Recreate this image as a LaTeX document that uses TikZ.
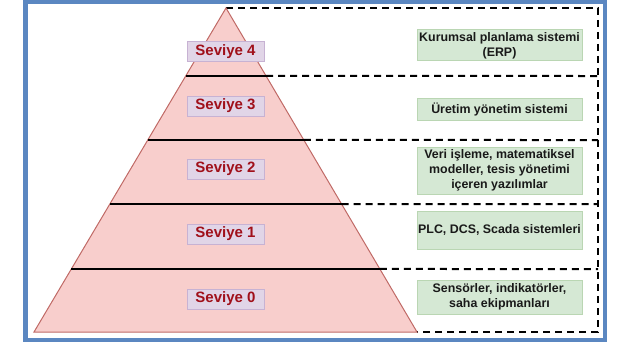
\documentclass[tikz,border=0pt]{standalone}
\usepackage{fontspec}
\setmainfont{Liberation Sans}
\usetikzlibrary{calc}

\begin{document}
\begin{tikzpicture}[x=1pt, y=-1pt, >=stealth]
    % --- Paleta de colores ---
    \definecolor{marco}{HTML}{5B87C1}
    \definecolor{piramide}{HTML}{F8CECC}
    \definecolor{piramideborde}{HTML}{C06A66}
    \definecolor{nivelfondo}{HTML}{E1D5E7}
    \definecolor{nivelborde}{HTML}{C7B2D3}
    \definecolor{niveltexto}{HTML}{A0101A}
    \definecolor{sistemafondo}{HTML}{D5E8D4}
    \definecolor{sistemaborde}{HTML}{BAD6B3}

    \tikzset{
        nivel/.style={fill=nivelfondo, draw=nivelborde, line width=1pt,
            minimum width=77pt, minimum height=20pt, inner sep=0pt,
            text=niveltexto, font=\fontsize{15}{18}\selectfont\bfseries},
        sistema/.style={fill=sistemafondo, draw=sistemaborde, line width=1pt,
            minimum width=165pt, inner sep=0pt, align=center,
            text=black!90, font=\fontsize{12.4}{15}\selectfont\bfseries},
        corte/.style={line width=2pt, black},
        guia/.style={line width=2pt, black, dash pattern=on 7pt off 5pt}
    }

    \useasboundingbox (0,0) rectangle (634,345);

    % --- Marco exterior ---
    \draw[marco, line width=4.5pt] (25.5,1.5) rectangle (605,340);

    % --- Coordenadas base de la piramide ---
    \coordinate (A) at (226,8);
    \coordinate (BL) at (34,332);
    \coordinate (BR) at (417,332);
    \coordinate (E0) at (598,8);
    \coordinate (E5) at (598,332);

    % --- Guias discontinuas hacia la derecha ---
    \draw[guia] (A) -- (E0) -- (E5) -- (BR);

    % --- Piramide ---
    \fill[piramide] (A) -- (BL) -- (BR) -- cycle;
    \draw[piramideborde, line width=1pt] (A) -- (BL) -- (BR) -- cycle;

    % --- Cortes entre niveles ---
    \foreach \y [count=\i] in {76,140,204,269} {
        \pgfmathsetmacro{\t}{(\y-8)/324}
        \coordinate (L\i) at ($(A)!\t!(BL)$);
        \coordinate (R\i) at ($(A)!\t!(BR)$);
        \coordinate (E\i) at (598,\y);
        \draw[corte] (L\i) -- (R\i);
        \draw[guia] (R\i) -- (E\i);
    }

    % --- Etiquetas de nivel ---
    \node[nivel] (n4) at (225.5,52) {Seviye 4};
    \node[nivel] (n3) at (225.5,106) {Seviye 3};
    \node[nivel] (n2) at (225.5,169) {Seviye 2};
    \node[nivel] (n1) at (225.5,234) {Seviye 1};
    \node[nivel] (n0) at (225.5,299) {Seviye 0};

    % --- Sistemas de cada nivel ---
    \node[sistema, minimum height=31pt] (s4) at (499.5,45.5) {Kurumsal planlama sistemi\\(ERP)};
    \node[sistema, minimum height=22pt] (s3) at (499.5,109) {Üretim yönetim sistemi};
    \node[sistema, minimum height=47pt] (s2) at (499.5,170.5) {Veri işleme, matematiksel\\modeller, tesis yönetimi\\içeren yazılımlar};
    \node[sistema, minimum height=38pt] (s1) at (499.5,230) {PLC, DCS, Scada sistemleri};
    \node[sistema, minimum height=34pt] (s0) at (499.5,297) {Sensörler, indikatörler,\\saha ekipmanları};

\end{tikzpicture}
\end{document}
